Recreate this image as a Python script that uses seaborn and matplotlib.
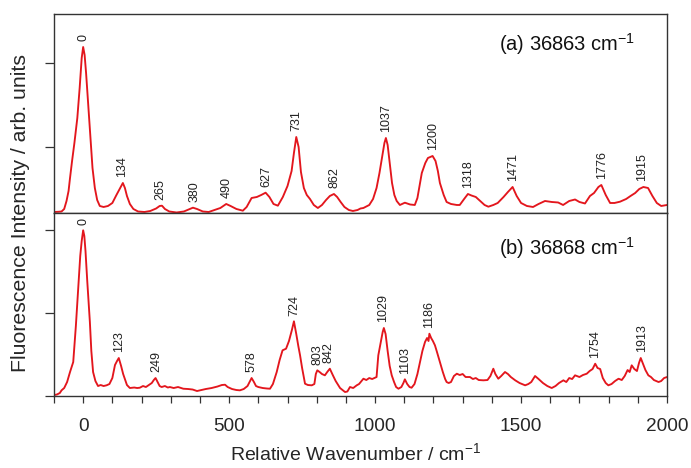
import numpy as np
import pandas as pd
import matplotlib
matplotlib.use("Agg")
import matplotlib.pyplot as plt
from matplotlib.ticker import MultipleLocator
import seaborn as sns

# ---------------- data (relative wavenumber / cm-1, intensity arb. units) ----------------
wn_a = [-100, -85, -74, -65, -57, -50, -45, -38, -30, -20, -12, -5, 0, 5, 10, 17, 25, 32, 40, 48,
        57, 70, 85, 100, 114, 125, 136, 143, 150, 160, 172, 188, 210, 230, 250, 262, 270, 280, 295, 320,
        345, 365, 376, 390, 410, 430, 450, 470, 490, 505, 525, 547, 560, 577, 595, 610, 625, 638, 652, 667,
        684, 700, 714, 722, 730, 738, 746, 756, 766, 777, 790, 804, 818, 832, 845, 859, 870, 882, 895, 910,
        924, 940, 950, 960, 980, 993, 1005, 1015, 1025, 1032, 1037, 1043, 1050, 1058, 1066, 1074, 1085, 1102, 1120, 1136,
        1145, 1160, 1172, 1181, 1197, 1207, 1215, 1222, 1235, 1245, 1260, 1280, 1290, 1305, 1318, 1330, 1345, 1360, 1375, 1388,
        1405, 1420, 1440, 1455, 1471, 1485, 1500, 1520, 1541, 1560, 1582, 1605, 1627, 1644, 1665, 1685, 1700, 1719, 1736, 1750,
        1765, 1775, 1790, 1805, 1820, 1839, 1860, 1875, 1891, 1905, 1919, 1935, 1950, 1965, 1980, 2000]
int_a = [1, 1.2, 1.5, 4, 12, 22, 35, 52, 70, 95, 125, 155, 166, 158, 140, 110, 75, 45, 25, 13,
         7, 6, 7, 10, 18, 24, 30, 25, 17, 9, 4, 1.5, 1, 2, 4.5, 7, 7.3, 4, 1.5, 0.5,
         1.5, 4, 5.3, 4, 1.5, 1, 3, 5, 9, 7, 4, 2.3, 6, 15, 16, 18, 20.3, 16, 9, 7.3,
         16, 27, 42, 60, 76, 66, 41, 25, 18, 14, 8, 5, 8, 13, 17, 19, 16, 11, 6, 3,
         2, 3, 4.5, 5, 8, 14, 25, 40, 58, 70, 75, 68, 50, 30, 18, 12, 8, 10.3, 8.5, 8,
         15, 40, 50, 55, 57, 52, 42, 30, 18, 11, 9, 8, 8, 14, 19, 17.5, 16, 12, 8, 6.3,
         8, 10, 16, 21, 26, 17, 10, 7, 6, 9, 12, 11, 10.5, 8, 12, 13.5, 11, 9.5, 17, 20,
         26, 28, 18, 10, 10, 11.3, 14, 17, 20, 24, 26, 25, 17, 10, 7, 8]

wn_b = [-100, -90, -80, -74, -65, -55, -45, -34, -25, -17, -10, -5, 0, 4, 8, 14, 23, 28, 34, 42,
        51, 60, 70, 80, 90, 100, 109, 116, 122, 130, 137, 143, 150, 160, 175, 185, 194, 205, 215, 225,
        235, 242, 248, 255, 262, 269, 280, 290, 297, 310, 325, 343, 360, 375, 390, 400, 420, 440, 460, 475,
        486, 495, 510, 525, 537, 550, 563, 570, 577, 585, 592, 600, 615, 630, 640, 650, 663, 673, 683, 695,
        705, 715, 722, 730, 737, 743, 750, 760, 770, 783, 792, 797, 802, 810, 818, 828, 836, 845, 855, 865,
        880, 897, 905, 914, 925, 937, 945, 960, 970, 980, 990, 1005, 1011, 1020, 1026, 1030, 1036, 1043, 1050, 1057,
        1065, 1072, 1080, 1090, 1097, 1102, 1110, 1118, 1125, 1135, 1145, 1154, 1162, 1171, 1178, 1183, 1186, 1192, 1198, 1205,
        1212, 1222, 1232, 1240, 1245, 1252, 1260, 1270, 1280, 1290, 1300, 1310, 1325, 1335, 1345, 1355, 1371, 1385, 1395, 1405,
        1412, 1422, 1432, 1445, 1455, 1465, 1480, 1495, 1514, 1525, 1535, 1548, 1560, 1575, 1590, 1605, 1618, 1630, 1645, 1655,
        1665, 1675, 1685, 1700, 1712, 1725, 1735, 1745, 1754, 1762, 1771, 1780, 1790, 1799, 1810, 1822, 1834, 1845, 1855, 1865,
        1872, 1879, 1888, 1897, 1904, 1910, 1918, 1926, 1936, 1945, 1955, 1971, 1980, 1990, 2000]
int_b = [1, 1.5, 3, 5.7, 8, 14, 24, 34, 70, 107, 140, 155, 165.7, 160, 145, 115, 74, 45, 24, 15,
         10, 11, 10, 10.7, 12, 18, 31, 35, 38, 30, 22, 17, 11, 8, 8.5, 8, 8.3, 10, 9, 11,
         13, 16, 18, 14, 10, 9, 10, 8.5, 9, 8, 9, 7.3, 7, 6.5, 5, 5.7, 7, 8, 9.5, 11,
         11.3, 9, 7, 6, 5.7, 7, 10, 14, 18, 14, 10, 9, 8, 7.5, 7.3, 12, 24, 36, 45.7, 47.3,
         55, 66, 74.7, 62, 50, 40.7, 28, 12.3, 11, 10.7, 12, 22, 25.7, 24, 22, 20.7, 24, 27.3, 21, 15,
         8, 4, 4.5, 9, 8, 10.7, 12, 17.3, 16, 18, 17, 19, 40.7, 55, 64, 68, 62, 45, 30, 20.7,
         14, 9, 7.3, 9, 13, 16.7, 12, 9, 8.3, 12, 22, 34, 45, 54, 58, 55, 62.3, 58, 55, 50.7,
         44, 34, 24, 17, 14, 13, 14, 20, 22.3, 21, 22, 19, 19, 17, 18, 16, 15.7, 16, 20, 27.3,
         22, 17.3, 20, 24, 22, 19, 15.7, 13, 10.7, 12, 14, 20, 17, 13, 10, 8, 10, 13, 15.7, 14,
         18, 17, 20.7, 19, 21, 22.3, 25, 27, 32.3, 28, 27, 18, 13, 10.7, 12, 15, 17.3, 16, 20, 26,
         24, 30.7, 27, 25, 33, 38, 32, 26, 20.7, 19, 16, 14, 15, 18, 19]

labels_a = [0, 134, 265, 380, 490, 627, 731, 862, 1037, 1200, 1318, 1471, 1776, 1915]
labels_b = [0, 123, 249, 578, 724, 803, 842, 1029, 1103, 1186, 1754, 1913]

title_a = "(a) 36863 cm$^{-1}$"
title_b = "(b) 36868 cm$^{-1}$"
xticks = [0, 500, 1000, 1500, 2000]

# ---------------- style ----------------
sns.set_style("ticks")
plt.rcParams["font.family"] = ["Liberation Sans", "DejaVu Sans"]
plt.rcParams["mathtext.fontset"] = "custom"
plt.rcParams["mathtext.rm"] = "Liberation Sans"
plt.rcParams["mathtext.it"] = "Liberation Sans"

RED = "#e3161d"
SPINE = "#333333"

fig = plt.figure(figsize=(6.91, 4.68), dpi=100)
ax1 = fig.add_axes([0.0781, 0.5449, 0.8872, 0.4252])
ax2 = fig.add_axes([0.0781, 0.1538, 0.8872, 0.3911])

df_a = pd.DataFrame({"wn": wn_a, "I": int_a})
df_b = pd.DataFrame({"wn": wn_b, "I": int_b})

for ax, df, labs, title, ylim, yt, ty in [
    (ax1, df_a, labels_a, title_a, (0, 199), [66, 150], 0.85),
    (ax2, df_b, labels_b, title_b, (0, 183), [0, 83, 166], 0.81),
]:
    sns.lineplot(data=df, x="wn", y="I", ax=ax, color=RED, lw=1.35, sort=False)
    ax.set_xlim(-100, 2000)
    ax.set_ylim(*ylim)
    ax.set_yticks(yt)
    ax.set_yticklabels([])
    ax.set_xlabel("")
    ax.set_ylabel("")
    for s in ax.spines.values():
        s.set_visible(True)
        s.set_color(SPINE)
        s.set_linewidth(1.0)
    ax.tick_params(axis="y", direction="out", length=6.5, width=0.9, color=SPINE)
    wn = np.asarray(df["wn"], float)
    it = np.asarray(df["I"], float)
    for lab in labs:
        m = (wn >= lab - 12) & (wn <= lab + 12)
        top = it[m].max() if m.any() else np.interp(lab, wn, it)
        ax.annotate(str(lab), xy=(lab, top), xytext=(0, 4), textcoords="offset points",
                    rotation=90, ha="center", va="bottom", fontsize=9, color="#222222")
    ax.text(0.948, ty, title, transform=ax.transAxes, ha="right", va="center",
            fontsize=14.5, color="#111111")

ax1.tick_params(axis="x", which="both", bottom=False, labelbottom=False)
ax2.set_xticks(xticks)
ax2.xaxis.set_minor_locator(MultipleLocator(100))
ax2.tick_params(axis="x", which="both", direction="out", length=4.8, width=0.9,
                color=SPINE, labelsize=13.7, pad=11)

fig.text(0.030, 0.545, "Fluorescence Intensity / arb. units", rotation=90,
         ha="center", va="center", fontsize=15.3)
fig.text(0.514, 0.032, "Relative Wavenumber / cm$^{-1}$", ha="center", va="center",
         fontsize=14)

fig.savefig("out.png", dpi=100)
